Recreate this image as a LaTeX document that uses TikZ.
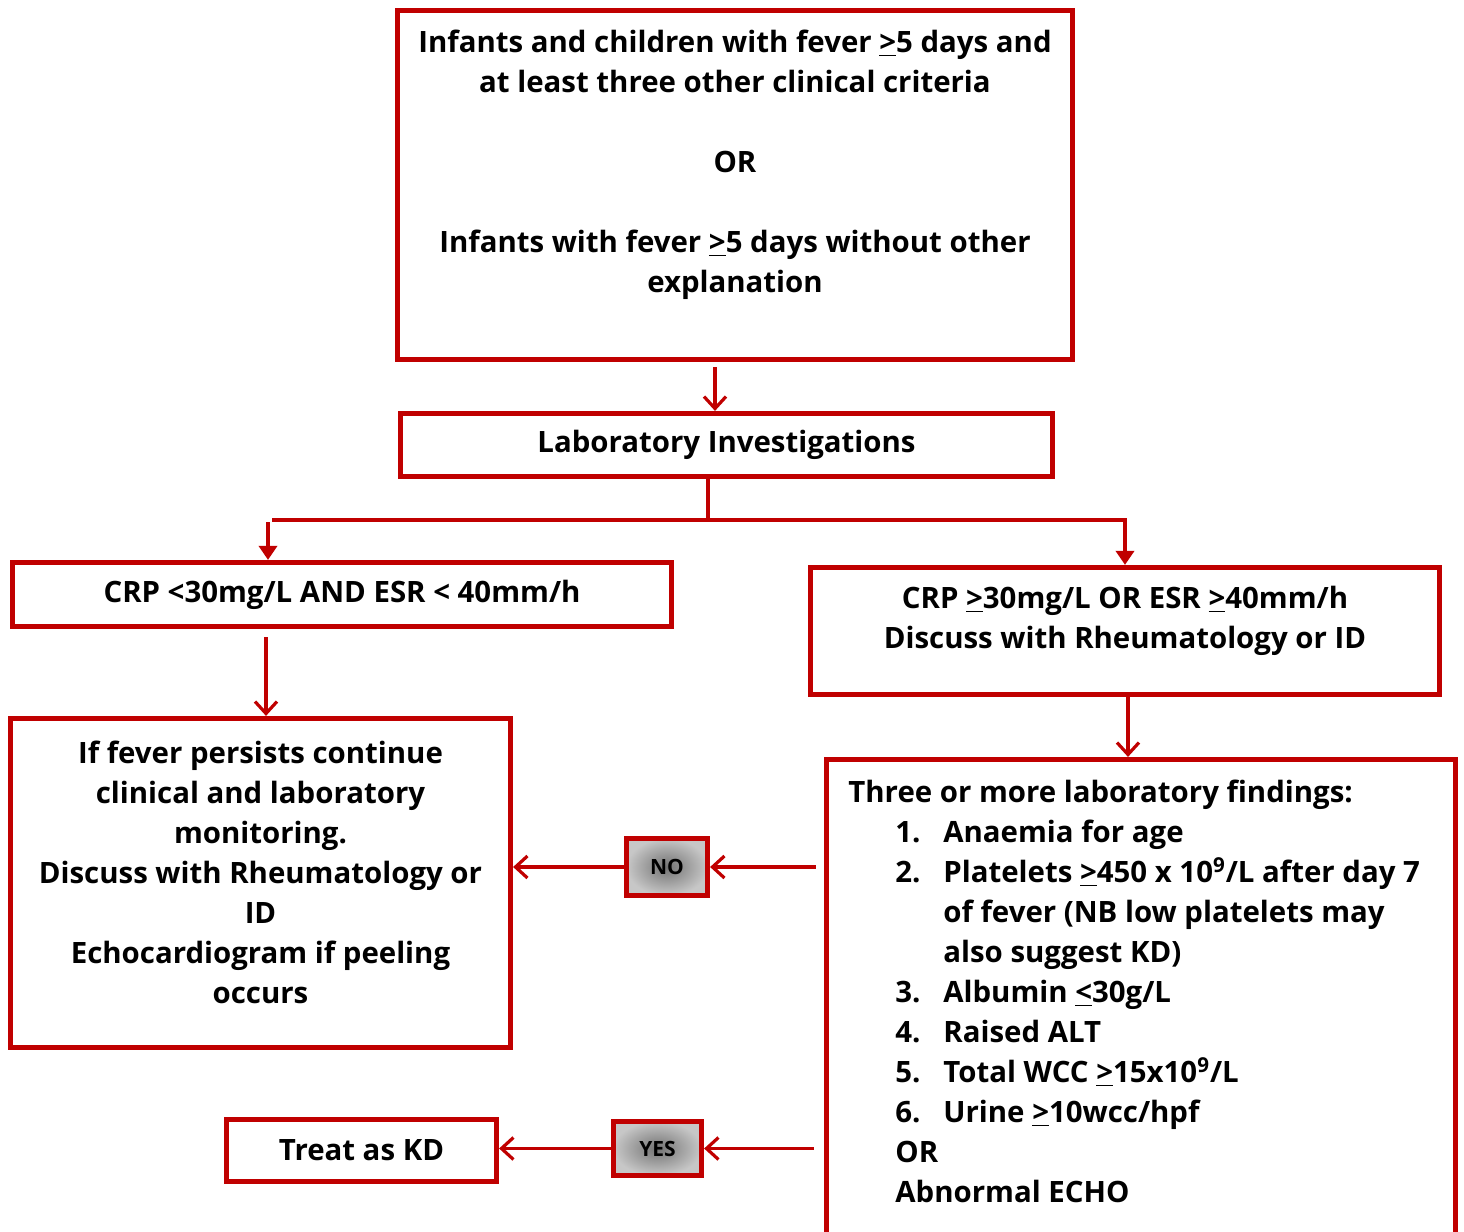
\documentclass[tikz,border=0pt]{standalone}
\usepackage{fontspec}
\setmainfont{Open Sans}
\usepackage{xcolor}
\usetikzlibrary{
    positioning,
    arrows.meta
}
\definecolor{kdred}{RGB}{192,0,0}
\newcommand{\atleast}{\underline{>}}
\newcommand{\atmost}{\underline{<}}

\begin{document}
\begin{tikzpicture}[
      x=0.5pt, y=-0.5pt,
      box/.style={draw=kdred, line width=2.6pt, align=center, inner sep=0pt,
        font=\fontsize{14.7}{20}\selectfont\bfseries},
      txt/.style={align=center, inner sep=0pt, font=\fontsize{14.7}{20}\selectfont\bfseries},
      answer/.style={box, shading=radial, inner color=black!55, outer color=black!22,
        font=\fontsize{10.5}{13}\selectfont\bfseries},
      arrow/.style={-{Straight Barb[length=6pt, width=11pt, line width=1.6pt]}, draw=kdred, line width=1.75pt},
      tarrow/.style={-{Triangle[length=7pt, width=9pt]}, draw=kdred, line width=1.75pt},
      line/.style={draw=kdred, line width=2.2pt}
    ]
    \clip (0,0) rectangle (1464,1232);

    \node[box, minimum width=337.5pt, minimum height=174.5pt] (topbox) at (735,185) {};
    \node[txt] (toptext) at (735,165) {Infants and children with fever \atleast5 days and\\at least three other clinical criteria\\[20pt]OR\\[20pt]Infants with fever \atleast5 days without other\\explanation};

    \node[box, minimum width=326pt, minimum height=31.5pt] (labbox) at (726.5,445) {Laboratory Investigations};

    \node[box, minimum width=329.5pt, minimum height=32pt] (crplow) at (342,594.5) {CRP <30mg/L AND ESR < 40mm/h};
    \node[box, minimum width=314.5pt, minimum height=63.5pt] (crphigh) at (1125,631) {};
    \node[txt] (crphightext) at (1125,621) {CRP \atleast30mg/L OR ESR \atleast40mm/h\\Discuss with Rheumatology or ID};

    \node[box, minimum width=250pt, minimum height=164.5pt] (monbox) at (260.5,883) {};
    \node[txt] (montext) at (260.5,872) {If fever persists continue\\clinical and laboratory\\monitoring.\\Discuss with Rheumatology or\\ID\\Echocardiogram if peeling\\occurs};

    \node[box, minimum width=314.5pt, minimum height=244pt] (findbox) at (1141,1003.5) {};
    \node[txt, align=left, anchor=north west] (findtext) at (848,780) {%
      Three or more laboratory findings:\\
      \hspace*{23.5pt}\makebox[24pt][l]{1.}Anaemia for age\\
      \hspace*{23.5pt}\makebox[24pt][l]{2.}Platelets \atleast450 x 10\textsuperscript{9}/L after day 7\\
      \hspace*{47.5pt}of fever (NB low platelets may\\
      \hspace*{47.5pt}also suggest KD)\\
      \hspace*{23.5pt}\makebox[24pt][l]{3.}Albumin \atmost30g/L\\
      \hspace*{23.5pt}\makebox[24pt][l]{4.}Raised ALT\\
      \hspace*{23.5pt}\makebox[24pt][l]{5.}Total WCC \atleast15x10\textsuperscript{9}/L\\
      \hspace*{23.5pt}\makebox[24pt][l]{6.}Urine \atleast10wcc/hpf\\
      \hspace*{23.5pt}OR\\
      \hspace*{23.5pt}Abnormal ECHO};

    \node[answer, minimum width=40.5pt, minimum height=28.5pt] (nobox) at (667,867) {NO};
    \node[answer, minimum width=44pt, minimum height=27pt] (yesbox) at (657.5,1148.5) {YES};
    \node[box, minimum width=135pt, minimum height=31pt] (treatbox) at (361.5,1150.5) {Treat as KD};

    \coordinate (fork) at (708,520);
    \coordinate (forkl) at (272,520);
    \coordinate (forkr) at (1127,520);

    \draw[arrow] ([xshift=-10pt,yshift=-2.5pt]topbox.south) -- ([xshift=-10pt]topbox.south |- labbox.north);
    \draw[line] (labbox.south -| fork) -- (fork);
    \draw[line] (forkl) -- (forkr);
    \draw[tarrow] ([xshift=-2pt,yshift=-1pt]forkl) -- ([xshift=-2pt]forkl |- crplow.north);
    \draw[tarrow] ([xshift=-1pt]forkr) -- ([xshift=-1pt]forkr |- crphigh.north);
    \draw[arrow] ([xshift=-38pt,yshift=-4pt]crplow.south) -- ([xshift=-38pt]crplow.south |- monbox.north);
    \draw[arrow] ([xshift=1.5pt]crphigh.south) -- ([xshift=1.5pt]crphigh.south |- findbox.north);
    \draw[arrow] ([xshift=-4pt]findbox.west |- nobox.east) -- (nobox.east);
    \draw[arrow] (nobox.west) -- (monbox.east |- nobox.west);
    \draw[arrow] ([xshift=-5pt]findbox.west |- yesbox.east) -- (yesbox.east);
    \draw[arrow] (yesbox.west) -- (treatbox.east |- yesbox.west);
  \end{tikzpicture}
\end{document}
